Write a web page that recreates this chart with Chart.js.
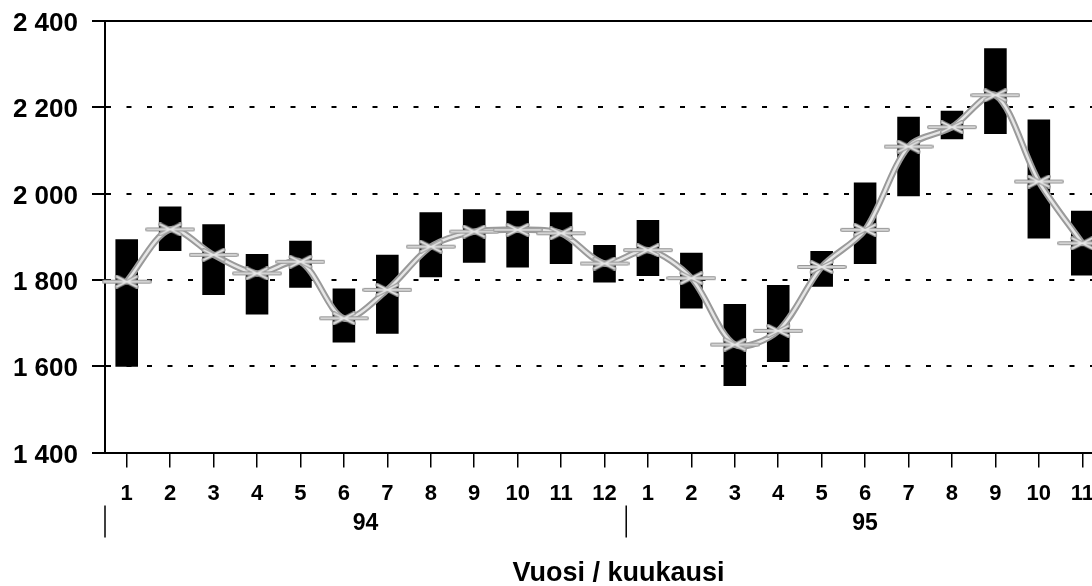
<!DOCTYPE html>
<html>
<head>
<meta charset="utf-8">
<script src="https://cdn.jsdelivr.net/npm/chart.js@4"></script>
<style>
  html, body { margin: 0; padding: 0; background: #fff; overflow: hidden; }
  #wrap { width: 1104px; height: 586px; }
</style>
</head>
<body>
<div id="wrap"><canvas id="chart"></canvas></div>
<script>
// months 1/94 .. 11/95
const months = ["1","2","3","4","5","6","7","8","9","10","11","12",
                "1","2","3","4","5","6","7","8","9","10","11"];
const years = ["94", "95"];
const yearStart = [0, 12]; // index of the first month of each year

// black bars: monthly low / high
const lows  = [1599, 1867, 1765, 1720, 1782, 1655, 1675, 1806, 1840, 1829, 1837, 1794,
               1809, 1734, 1554, 1610, 1784, 1837, 1994, 2126, 2138, 1896, 1810];
const highs = [1894, 1970, 1929, 1860, 1891, 1780, 1858, 1957, 1964, 1960, 1957, 1881,
               1939, 1863, 1744, 1788, 1867, 2026, 2178, 2192, 2337, 2172, 1960];
// grey line: monthly average
const trend = [1796, 1917, 1858, 1815, 1842, 1711, 1777, 1877, 1912, 1916, 1908, 1838,
               1869, 1804, 1650, 1682, 1830, 1916, 2109, 2154, 2228, 2028, 1885];

const yTickValues = [1400, 1600, 1800, 2000, 2200, 2400];

const FONT = '"Liberation Sans", Arial, Helvetica, sans-serif';
Chart.defaults.font.family = FONT;
Chart.defaults.font.weight = "bold";
Chart.defaults.color = "#000";

function fmt(v) {
    return String(v).replace(/\B(?=(\d{3})+(?!\d))/g, " ");
}

// wide asterisk-like marker used on the grey line
const marker = document.createElement("canvas");
marker.width = 50;
marker.height = 14;
(function () {
    const m = marker.getContext("2d");
    function shape() {
        m.beginPath();
        m.moveTo(2, 7); m.lineTo(48, 7);
        m.moveTo(15, 2); m.lineTo(35, 12);
        m.moveTo(15, 12); m.lineTo(35, 2);
        m.stroke();
    }
    m.lineCap = "round";
    m.strokeStyle = "#9a9a9a"; m.lineWidth = 4; shape();
    m.strokeStyle = "#e6e6e6"; m.lineWidth = 1.5; shape();
})();

const extras = {
    id: "extras",
    afterDraw(chart) {
        const { ctx, chartArea } = chart;
        const x = chart.scales.x;
        const half = (x.getPixelForValue(1) - x.getPixelForValue(0)) / 2;
        ctx.save();
        // solid top line
        ctx.strokeStyle = "#000";
        ctx.lineWidth = 2;
        ctx.beginPath();
        ctx.moveTo(chartArea.left - 13, chartArea.top);
        ctx.lineTo(chartArea.right, chartArea.top);
        ctx.stroke();

        // year labels and separators
        ctx.fillStyle = "#000";
        ctx.font = "bold 23px " + FONT;
        ctx.textAlign = "center";
        ctx.textBaseline = "middle";
        ctx.lineWidth = 1.5;
        years.forEach((yr, k) => {
            const first = yearStart[k];
            const last = k + 1 < years.length ? yearStart[k + 1] - 1 : months.length - 1;
            const sep = x.getPixelForValue(first) - half;
            ctx.beginPath();
            ctx.moveTo(sep, chartArea.bottom + 53);
            ctx.lineTo(sep, chartArea.bottom + 85);
            ctx.stroke();
            ctx.fillText(yr, (x.getPixelForValue(first) + x.getPixelForValue(last)) / 2, chartArea.bottom + 71);
        });

        // axis title
        ctx.font = "bold 27px " + FONT;
        ctx.textBaseline = "alphabetic";
        ctx.fillText("Vuosi / kuukausi", (chartArea.left + chartArea.right) / 2 + 14, chartArea.bottom + 128);
        ctx.restore();
    }
};

new Chart(document.getElementById("chart").getContext("2d"), {
    type: "bar",
    data: {
        labels: months,
        datasets: [
            {
                type: "line",
                data: trend,
                borderColor: "#e6e6e6",
                borderWidth: 2.5,
                tension: 0.3,
                pointStyle: marker,
                pointRadius: 3,
                order: 1
            },
            {
                type: "line",
                data: trend,
                borderColor: "#9a9a9a",
                borderWidth: 6.5,
                tension: 0.3,
                pointRadius: 0,
                order: 2
            },
            {
                type: "bar",
                data: lows.map((l, i) => [l, highs[i]]),
                backgroundColor: "#000",
                borderWidth: 0,
                barPercentage: 0.52,
                categoryPercentage: 1,
                order: 3
            }
        ]
    },
    options: {
        responsive: true,
        maintainAspectRatio: false,
        animation: false,
        layout: { autoPadding: false, padding: { top: 21, left: 0, right: 0, bottom: 0 } },
        plugins: {
            legend: { display: false },
            tooltip: { enabled: false }
        },
        scales: {
            x: {
                offset: true,
                afterFit: s => { s.height = 133.5; s.paddingLeft = 0; s.paddingRight = 0; },
                grid: {
                    offset: false,
                    drawOnChartArea: false,
                    drawTicks: true,
                    tickLength: 15,
                    color: "#000",
                    lineWidth: 1.5
                },
                border: { color: "#000", width: 2 },
                ticks: {
                    font: { size: 22, weight: "bold" },
                    color: "#000",
                    padding: 13,
                    maxRotation: 0,
                    autoSkip: false
                }
            },
            y: {
                min: 1400,
                max: 2400,
                afterFit: s => { s.width = 105; s.paddingTop = 0; s.paddingBottom = 0; },
                afterBuildTicks: s => { s.ticks = yTickValues.map(v => ({ value: v })); },
                grid: {
                    color: "#000",
                    lineWidth: 2,
                    tickLength: 13,
                    tickColor: "#000",
                    tickWidth: 2
                },
                border: { color: "#000", width: 2, dash: [5, 15.5] },
                ticks: {
                    font: { size: 26, weight: "bold" },
                    color: "#000",
                    padding: 14,
                    labelOffset: 3,
                    callback: v => fmt(v)
                }
            }
        }
    },
    plugins: [extras]
});
</script>
</body>
</html>
